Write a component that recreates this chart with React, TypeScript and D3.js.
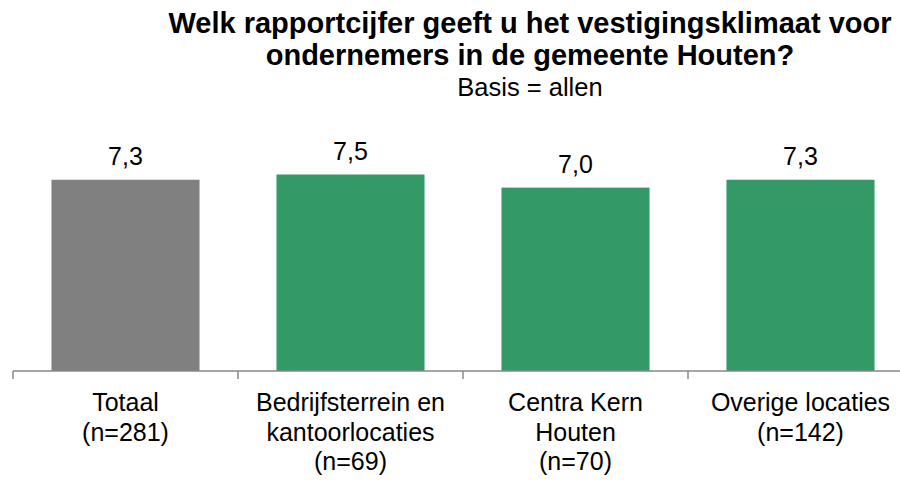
import React from "react";
import * as d3 from "d3";

const categories = ["Totaal", "Bedrijfsterrein", "Centra", "Overige"];
const categoryLabels = [
  ["Totaal", "(n=281)"],
  ["Bedrijfsterrein en", "kantoorlocaties", "(n=69)"],
  ["Centra Kern", "Houten", "(n=70)"],
  ["Overige locaties", "(n=142)"],
];
const values = [7.3, 7.5, 7.0, 7.3];
const barColors = ["#808080", "#339966", "#339966", "#339966"];
const titleLines = [
  "Welk rapportcijfer geeft u het vestigingsklimaat voor",
  "ondernemers in de gemeente Houten?",
];
const subtitle = "Basis = allen";

const W = 900;
const H = 482;
const FONT = "'Liberation Sans', Arial, sans-serif";

export default function App() {
  const x = d3
    .scaleBand<string>()
    .domain(categories)
    .range([13, 913])
    .paddingInner(0.342)
    .paddingOuter(0.171);
  const y = d3.scaleLinear().domain([0, 10]).range([371, 109]);
  const fmt = (v: number) => d3.format(".1f")(v).replace(".", ",");
  const step = x.step();
  const boundaries = categories.map((_, i) => 13 + i * step).concat([13 + categories.length * step]);
  const cx = 530;

  return (
    <svg
      width={W}
      height={H}
      viewBox={`0 0 ${W} ${H}`}
      style={{ position: "absolute", left: 0, top: 0, background: "#fff" }}
      fontFamily={FONT}
    >
      <rect x={0} y={0} width={W} height={H} fill="#fff" />
      {titleLines.map((t, i) => (
        <text
          key={i}
          x={cx}
          y={33 + i * 32}
          textAnchor="middle"
          fontSize={29}
          fontWeight="bold"
          fill="#000"
        >
          {t}
        </text>
      ))}
      <text x={cx} y={96} textAnchor="middle" fontSize={25.5} fill="#000">
        {subtitle}
      </text>

      {categories.map((c, i) => (
        <rect
          key={c}
          x={x(c)}
          y={y(values[i])}
          width={x.bandwidth()}
          height={y(0) - y(values[i])}
          fill={barColors[i]}
        />
      ))}
      {categories.map((c, i) => (
        <text
          key={c + "v"}
          x={(x(c) as number) + x.bandwidth() / 2}
          y={y(values[i]) - 15}
          textAnchor="middle"
          fontSize={25}
          fill="#000"
        >
          {fmt(values[i])}
        </text>
      ))}

      <line x1={13} x2={W} y1={371} y2={371} stroke="#898989" strokeWidth={1.5} />
      {boundaries.map((b, i) => (
        <line key={i} x1={b} x2={b} y1={371} y2={379} stroke="#898989" strokeWidth={1.5} />
      ))}

      {categories.map((c, i) => (
        <text
          key={c + "l"}
          x={(x(c) as number) + x.bandwidth() / 2}
          textAnchor="middle"
          fontSize={25}
          fill="#000"
        >
          {categoryLabels[i].map((ln, j) => (
            <tspan key={j} x={(x(c) as number) + x.bandwidth() / 2} y={411 + j * 29.5}>
              {ln}
            </tspan>
          ))}
        </text>
      ))}
    </svg>
  );
}
